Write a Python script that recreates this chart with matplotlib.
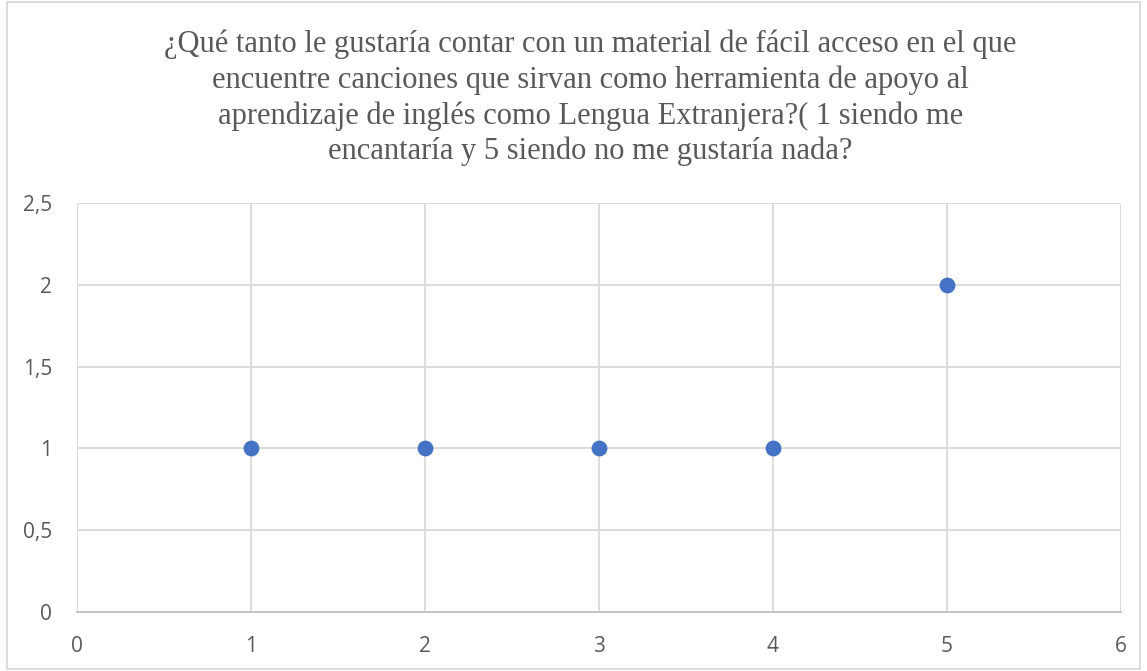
import numpy as np
import matplotlib.pyplot as plt
from matplotlib.ticker import FuncFormatter
from matplotlib.patches import Rectangle

respuesta = np.array([1, 2, 3, 4, 5])
cantidad = np.array([1, 1, 1, 1, 2])
titulo = ("¿Qué tanto le gustaría contar con un material de fácil acceso en el que\n"
          "encuentre canciones que sirvan como herramienta de apoyo al\n"
          "aprendizaje de inglés como Lengua Extranjera?( 1 siendo me\n"
          "encantaría y 5 siendo no me gustaría nada?")

fig = plt.figure(figsize=(11.47, 6.71), dpi=100)
ax = fig.add_axes([0.0671, 0.0879, 0.9102, 0.6096])

ax.scatter(respuesta, cantidad, s=130, color='#4472C4', zorder=3, linewidths=0)
ax.set_xlim(0, 6)
ax.set_ylim(0, 2.5)
ax.set_xticks(np.arange(0, 7, 1))
ax.set_yticks(np.arange(0, 2.51, 0.5))
ax.yaxis.set_major_formatter(FuncFormatter(lambda v, p: f"{v:g}".replace('.', ',')))
ax.grid(True, color='#d9d9d9', linewidth=1.3)
ax.set_axisbelow(True)
for s in ['top', 'right', 'left']:
    ax.spines[s].set_visible(False)
ax.spines['bottom'].set_color('#bfbfbf')
ax.spines['bottom'].set_linewidth(1.3)
ax.tick_params(length=0, labelsize=15, labelcolor='#595959')
ax.tick_params(axis='x', pad=17)
ax.tick_params(axis='y', pad=18)
for lab in ax.get_xticklabels() + ax.get_yticklabels():
    lab.set_fontfamily('Open Sans')

fig.text(0.5145, 0.854, titulo, ha='center', va='center', fontsize=22,
         family='Liberation Serif', color='#595959', linespacing=1.28)

fig.patches.append(Rectangle((0.006, 0.003), 0.988, 0.994, transform=fig.transFigure,
                             fill=False, edgecolor='#d9d9d9', linewidth=1.3))

plt.savefig('out.png', dpi=100)
